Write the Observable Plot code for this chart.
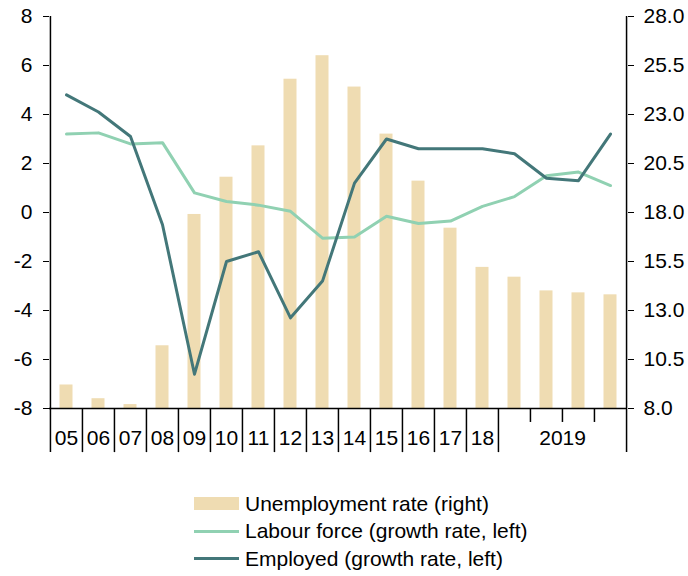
<!DOCTYPE html>
<html><head><meta charset="utf-8">
<script src="https://cdn.jsdelivr.net/npm/d3@7"></script>
<script src="https://cdn.jsdelivr.net/npm/@observablehq/plot@0.6"></script>
<style>
body{margin:0;background:#fff;font-family:"Liberation Sans",Arial,sans-serif;color:#000;}
#legend{padding-left:194px;margin-top:30px;font-size:21px;}
.row{display:flex;align-items:center;height:27.5px;}
.sw{width:45px;margin-right:6px;}
</style></head><body><div id="chart"></div><div id="legend"></div>
<script>
// Data
const categories = ["05","06","07","08","09","10","11","12","13","14","15","16","17","18","2019 Q1","2019 Q2","2019 Q3","2019 Q4"];
const yearTickLabels = ["05","06","07","08","09","10","11","12","13","14","15","16","17","18"];
const groupLabel = "2019";
const unemployment = [9.2, 8.5, 8.2, 11.2, 17.9, 19.8, 21.4, 24.8, 26.0, 24.4, 22.0, 19.6, 17.2, 15.2, 14.7, 14.0, 13.9, 13.8];
const labourForce = [3.2, 3.25, 2.8, 2.85, 0.8, 0.45, 0.3, 0.05, -1.05, -1.0, -0.15, -0.45, -0.35, 0.25, 0.65, 1.5, 1.65, 1.1];
const employed = [4.8, 4.1, 3.1, -0.5, -6.6, -2.0, -1.6, -4.3, -2.8, 1.2, 3.0, 2.6, 2.6, 2.6, 2.4, 1.4, 1.3, 3.2];
const leftTicks = [-8,-6,-4,-2,0,2,4,6,8];
const rightDomain = [8, 28];
const seriesNames = ["Unemployment rate (right)", "Labour force (growth rate, left)", "Employed (growth rate, left)"];
const colors = {bar:"#efdcb2", labour:"#90d1b2", employed:"#437779"};

const W=688, H=460, ML=49, MR=61, MT=16, MB=52;
const step = (W-ML-MR)/categories.length;
const toLeft = d3.scaleLinear(rightDomain, [-8, 8]);
const rows = categories.map((c,i)=>({cat:c, unemp:unemployment[i], lab:labourForce[i], emp:employed[i]}));
const seps = categories.map((c,i)=>({cat:c, first:i===0, long:!c.startsWith("2019") || c.endsWith("Q1")}));
const font = '"Liberation Sans", Arial, sans-serif';
const FS = 21;

const plot = Plot.plot({
  width:W, height:H, marginLeft:ML, marginRight:MR, marginTop:MT, marginBottom:MB,
  style:{fontFamily:font, fontSize:FS+"px", color:"#000", background:"#fff", overflow:"visible"},
  x:{domain:categories, padding:0, axis:null},
  y:{domain:[-8,8], axis:null},
  marks:[
    Plot.barY(rows, {x:"cat", y1:-8, y2:d=>toLeft(d.unemp), fill:colors.bar, insetLeft:9.5, insetRight:9.5}),
    Plot.lineY(rows, {x:"cat", y:"lab", stroke:colors.labour, strokeWidth:3}),
    Plot.lineY(rows, {x:"cat", y:"emp", stroke:colors.employed, strokeWidth:3}),
    Plot.ruleY([-8], {stroke:"#000", strokeWidth:1.5}),
    Plot.ruleX(seps, {x:"cat", dx:-step/2, y1:d=>d.first?8:-8, y2:d=>d.long?-9.8:-8.57, stroke:"#000", strokeWidth:1.5}),
    Plot.ruleX([categories[categories.length-1]], {x:d=>d, dx:step/2, y1:8, y2:-9.8, stroke:"#000", strokeWidth:1.5}),
    Plot.axisY({anchor:"left", ticks:leftTicks, tickSize:6, tickPadding:11, tickFormat:d=>String(d), fontSize:FS}),
    Plot.axisY({anchor:"right", ticks:leftTicks, tickSize:6, tickPadding:10, tickFormat:d=>toLeft.invert(d).toFixed(1), fontSize:FS}),
    Plot.text(yearTickLabels, {x:d=>d, y:-8, dy:30, text:d=>d, fontSize:FS}),
    Plot.text([{cat:"2019 Q2", label:groupLabel}], {x:"cat", y:-8, dy:30, dx:step/2, text:"label", fontSize:FS})
  ]
});
document.getElementById("chart").appendChild(plot);

const lg = document.getElementById("legend");
const swatches = [
  `<div class="sw" style="height:13px;background:${colors.bar}"></div>`,
  `<div class="sw" style="height:3px;background:${colors.labour}"></div>`,
  `<div class="sw" style="height:3px;background:${colors.employed}"></div>`
];
seriesNames.forEach((n,i)=>{
  const r=document.createElement("div"); r.className="row";
  r.innerHTML = swatches[i] + `<span>${n}</span>`;
  lg.appendChild(r);
});
</script></body></html>
